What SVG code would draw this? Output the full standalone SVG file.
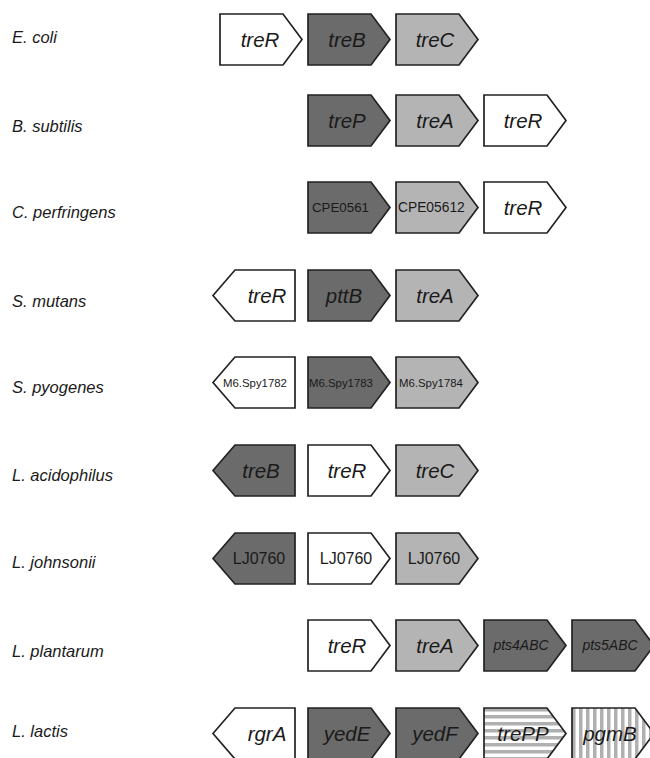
<svg xmlns="http://www.w3.org/2000/svg" xmlns:xlink="http://www.w3.org/1999/xlink" width="650" height="758" viewBox="0 0 650 758">
  <style>
    .gene { stroke: #222222; stroke-width: 1.7; stroke-linejoin: miter; }
    .white { fill: #ffffff; }
    .dark { fill: #6b6b6b; }
    .light { fill: #b4b4b4; }
    .hstr { fill: url(#hstripes); }
    .vstr { fill: url(#vstripes); }
    .species { font-family: "Liberation Sans", Arial, sans-serif; font-style: italic; font-size: 16.5px; fill: #1a1a1a; }
    .gl { font-family: "Liberation Sans", Arial, sans-serif; font-style: italic; font-size: 20.5px; fill: #1a1a1a; text-anchor: middle; }
    .small { font-size: 14px; }
    .id { font-family: "Liberation Sans", Arial, sans-serif; fill: #1a1a1a; }
  </style>
  <defs>
    <!-- gene arrows: forward points right, reverse points left -->
    <path id="fwd" d="M0,0 H63 L82,25.5 L63,51 H0 Z"/>
    <path id="rev" d="M0,25.5 L22,0 H82 V51 H22 Z"/>
    <pattern id="hstripes" patternUnits="userSpaceOnUse" width="8" height="7">
      <rect width="8" height="7" fill="#ffffff"/>
      <rect y="0" width="8" height="3.5" fill="#b0b0b0"/>
    </pattern>
    <pattern id="vstripes" patternUnits="userSpaceOnUse" width="7" height="8">
      <rect width="7" height="8" fill="#ffffff"/>
      <rect x="0" width="3.5" height="8" fill="#b0b0b0"/>
    </pattern>
  </defs>

  <!-- species labels -->
  <g id="labels">
    <text class="species" x="12" y="43">E. coli</text>
    <text class="species" x="12" y="132">B. subtilis</text>
    <text class="species" x="12" y="218">C. perfringens</text>
    <text class="species" x="12" y="307">S. mutans</text>
    <text class="species" x="12" y="393">S. pyogenes</text>
    <text class="species" x="12" y="481">L. acidophilus</text>
    <text class="species" x="12" y="568">L. johnsonii</text>
    <text class="species" x="12" y="657">L. plantarum</text>
    <text class="species" x="12" y="737">L. lactis</text>
  </g>

  <!-- E. coli -->
  <g id="ecoli" transform="translate(0,14)">
    <use href="#fwd" class="gene white" x="220"/>
    <text class="gl" x="260" y="33">treR</text>
    <use href="#fwd" class="gene dark" x="308"/>
    <text class="gl" x="347" y="33">treB</text>
    <use href="#fwd" class="gene light" x="396"/>
    <text class="gl" x="435" y="33">treC</text>
  </g>

  <!-- B. subtilis -->
  <g id="bsubtilis" transform="translate(0,95)">
    <use href="#fwd" class="gene dark" x="308"/>
    <text class="gl" x="347" y="33">treP</text>
    <use href="#fwd" class="gene light" x="396"/>
    <text class="gl" x="435" y="33">treA</text>
    <use href="#fwd" class="gene white" x="484"/>
    <text class="gl" x="523" y="33">treR</text>
  </g>

  <!-- C. perfringens -->
  <g id="cperfringens" transform="translate(0,182)">
    <use href="#fwd" class="gene dark" x="308"/>
    <text class="id" x="312" y="30" font-size="13.3">CPE0561</text>
    <use href="#fwd" class="gene light" x="396"/>
    <text class="id" x="398" y="30" font-size="13.8">CPE05612</text>
    <use href="#fwd" class="gene white" x="484"/>
    <text class="gl" x="523" y="33">treR</text>
  </g>

  <!-- S. mutans -->
  <g id="smutans" transform="translate(0,270)">
    <use href="#rev" class="gene white" x="213"/>
    <text class="gl" x="267" y="33">treR</text>
    <use href="#fwd" class="gene dark" x="308"/>
    <text class="gl" x="344" y="33">pttB</text>
    <use href="#fwd" class="gene light" x="396"/>
    <text class="gl" x="435" y="33">treA</text>
  </g>

  <!-- S. pyogenes -->
  <g id="spyogenes" transform="translate(0,357)">
    <use href="#rev" class="gene white" x="213"/>
    <text class="id" x="223" y="30" font-size="11.4">M6.Spy1782</text>
    <use href="#fwd" class="gene dark" x="308"/>
    <text class="id" x="309" y="30" font-size="11.4">M6.Spy1783</text>
    <use href="#fwd" class="gene light" x="396"/>
    <text class="id" x="399" y="30" font-size="11.4">M6.Spy1784</text>
  </g>

  <!-- L. acidophilus -->
  <g id="lacidophilus" transform="translate(0,445)">
    <use href="#rev" class="gene dark" x="213"/>
    <text class="gl" x="261" y="33">treB</text>
    <use href="#fwd" class="gene white" x="308"/>
    <text class="gl" x="347" y="33">treR</text>
    <use href="#fwd" class="gene light" x="396"/>
    <text class="gl" x="435" y="33">treC</text>
  </g>

  <!-- L. johnsonii -->
  <g id="ljohnsonii" transform="translate(0,533)">
    <use href="#rev" class="gene dark" x="213"/>
    <text class="id" x="259" y="31" font-size="16" text-anchor="middle">LJ0760</text>
    <use href="#fwd" class="gene white" x="308"/>
    <text class="id" x="346" y="31" font-size="16" text-anchor="middle">LJ0760</text>
    <use href="#fwd" class="gene light" x="396"/>
    <text class="id" x="434" y="31" font-size="16" text-anchor="middle">LJ0760</text>
  </g>

  <!-- L. plantarum -->
  <g id="lplantarum" transform="translate(0,620)">
    <use href="#fwd" class="gene white" x="308"/>
    <text class="gl" x="347" y="33">treR</text>
    <use href="#fwd" class="gene light" x="396"/>
    <text class="gl" x="435" y="33">treA</text>
    <use href="#fwd" class="gene dark" x="484"/>
    <text class="gl small" x="521" y="30">pts4ABC</text>
    <use href="#fwd" class="gene dark" x="572"/>
    <text class="gl small" x="610" y="30">pts5ABC</text>
  </g>

  <!-- L. lactis -->
  <g id="llactis" transform="translate(0,708)">
    <use href="#rev" class="gene white" x="213"/>
    <text class="gl" x="267" y="33">rgrA</text>
    <use href="#fwd" class="gene dark" x="308"/>
    <text class="gl" x="347" y="33">yedE</text>
    <use href="#fwd" class="gene dark" x="396"/>
    <text class="gl" x="435" y="33">yedF</text>
    <use href="#fwd" class="gene hstr" x="484"/>
    <text class="gl" x="523" y="33">trePP</text>
    <use href="#fwd" class="gene vstr" x="572"/>
    <text class="gl" x="610" y="33">pgmB</text>
  </g>
</svg>
